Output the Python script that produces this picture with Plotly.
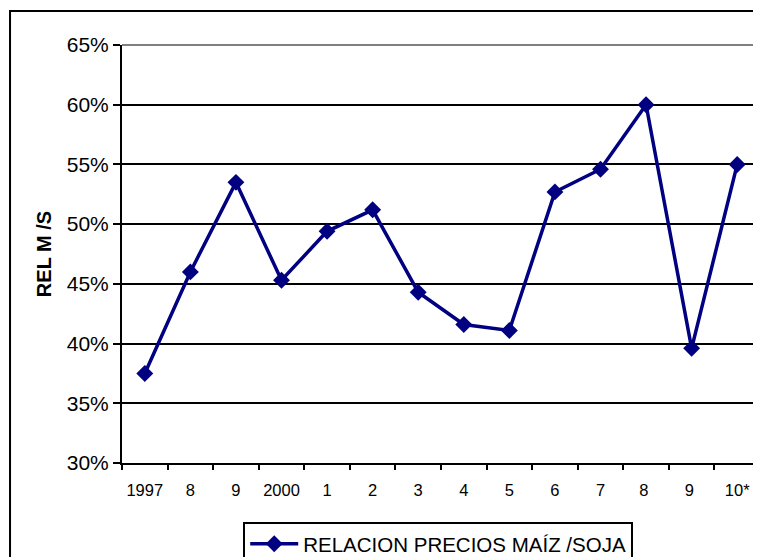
"""Relacion precios maiz / soja, 1997-2010."""

import plotly.graph_objects as go

years = ["1997", "8", "9", "2000", "1", "2", "3", "4", "5", "6", "7", "8 ", "9 ", "10*"]
ratio_pct = [37.5, 46.0, 53.5, 45.3, 49.4, 51.2, 44.3, 41.6, 41.1, 52.7, 54.6, 60.0, 39.6, 55.0]
series_name = "RELACION PRECIOS MAÍZ /SOJA"
y_ticks = [30, 35, 40, 45, 50, 55, 60, 65]
y_labels = [f"{v}%" for v in y_ticks]

NAVY = "#000080"
FONT = "Liberation Sans, Arial, sans-serif"

fig = go.Figure()
fig.add_trace(
    go.Scatter(
        x=years,
        y=ratio_pct,
        mode="lines+markers",
        name=series_name,
        line=dict(color=NAVY, width=3.5),
        marker=dict(symbol="diamond", size=13, color=NAVY),
    )
)

# plot-area border: grey on top/right, black axes on left/bottom
fig.add_shape(type="line", xref="paper", yref="paper", x0=0, x1=1, y0=1, y1=1,
              line=dict(color="#808080", width=2), layer="above")
fig.add_shape(type="line", xref="paper", yref="paper", x0=1, x1=1, y0=0, y1=1,
              line=dict(color="#808080", width=2), layer="above")
# outer chart frame (partly cut off at right and bottom)
fig.add_shape(type="rect", xref="paper", yref="paper", x0=-0.1755, x1=1.03, y0=-0.27, y1=1.0813,
              line=dict(color="black", width=2), layer="above")

# page body adds an 8px offset, margins are set with that in mind
fig.update_layout(
    width=761,
    height=557,
    margin=dict(l=114, r=9, t=37, b=102, autoexpand=False),
    paper_bgcolor="white",
    plot_bgcolor="white",
    font=dict(family=FONT, color="black"),
    showlegend=True,
    legend=dict(
        x=0.19, y=-0.141, xanchor="left", yanchor="top",
        bordercolor="black", borderwidth=2,
        itemwidth=48,
        font=dict(size=20.5, family=FONT),
    ),
    xaxis=dict(
        type="category",
        range=[-0.5, len(years) - 0.5],
        automargin=False,
        showgrid=False,
        showline=True, linecolor="black", linewidth=2,
        ticks="outside", tickson="boundaries", ticklen=5, tickwidth=2, tickcolor="black",
        tickfont=dict(size=16.5), tickangle=0,
        ticklabelstandoff=11,
    ),
    yaxis=dict(
        automargin=False,
        range=[30, 65],
        tickmode="array",
        tickvals=y_ticks,
        ticktext=y_labels,
        showgrid=True, gridcolor="black", gridwidth=1.5,
        zeroline=False,
        showline=True, linecolor="black", linewidth=2,
        ticks="outside", ticklen=7, tickwidth=2, tickcolor="black",
        tickfont=dict(size=21),
        title=dict(text="<b>REL M /S</b>", font=dict(size=20), standoff=10),
    ),
)

fig.write_html("out.html")
